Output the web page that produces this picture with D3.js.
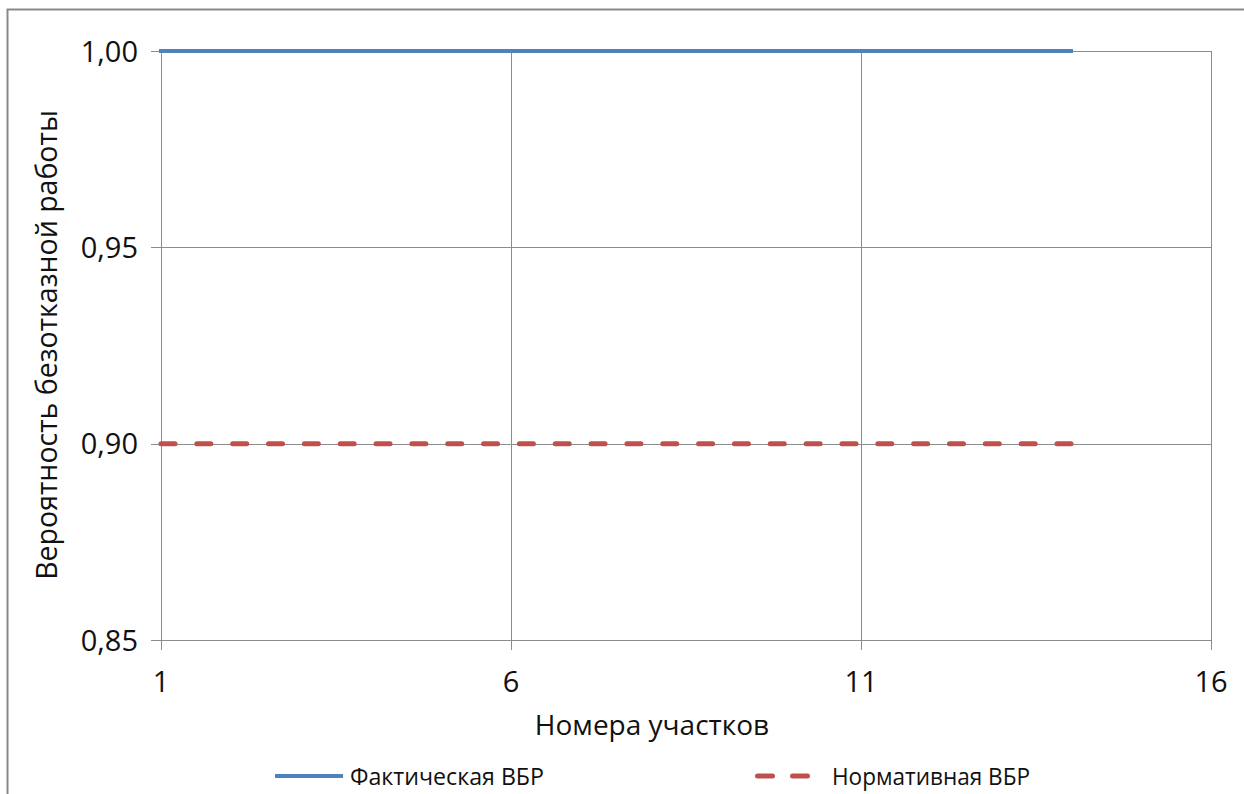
<!DOCTYPE html>
<html><head><meta charset="utf-8">
<script src="https://cdn.jsdelivr.net/npm/d3@7"></script>
<style>body{margin:0;background:#fff}svg{display:block}</style>
</head><body>
<script>
const sections = [1,2,3,4,5,6,7,8,9,10,11,12,13,14];
const actualVBR = [1,1,1,1,1,1,1,1,1,1,1,1,1,1];
const normVBR = [0.9,0.9,0.9,0.9,0.9,0.9,0.9,0.9,0.9,0.9,0.9,0.9,0.9,0.9];
const xTicks = [1,6,11,16];
const yTicks = [0.85,0.90,0.95,1.00];
const seriesNames = ["Фактическая ВБР","Нормативная ВБР"];

const W=1244,H=794;
const svg=d3.select("body").append("svg").attr("width",W).attr("height",H);
const font="'Open Sans', 'Noto Sans', sans-serif";
svg.append("rect").attr("x",7.5).attr("y",9.5).attr("width",1250).attr("height",800)
  .attr("fill","#fff").attr("stroke","#898989").attr("stroke-width",2);

const L=161,R=1211,T=51,B=640;
const x=d3.scaleLinear().domain([1,16]).range([L,R]);
const y=d3.scaleLinear().domain([0.85,1.0]).range([B,T]);

const g=svg.append("g");
g.selectAll(".hg").data(yTicks).join("line").attr("x1",L-10).attr("x2",R)
  .attr("y1",d=>Math.round(y(d))+0.5).attr("y2",d=>Math.round(y(d))+0.5).attr("stroke","#8c8c8c").attr("stroke-width",1);
g.selectAll(".vg").data(xTicks).join("line").attr("y1",T).attr("y2",B+10)
  .attr("x1",d=>Math.round(x(d))+0.5).attr("x2",d=>Math.round(x(d))+0.5).attr("stroke","#8c8c8c").attr("stroke-width",1);

g.selectAll(".yl").data(yTicks).join("text").attr("x",L-23).attr("y",d=>y(d)+10.5)
  .attr("text-anchor","end").attr("font-family",font).attr("font-size",29).attr("fill","#111")
  .text(d=>d3.format(".2f")(d).replace(".",","));
g.selectAll(".xl").data(xTicks).join("text").attr("x",d=>x(d)).attr("y",B+52)
  .attr("text-anchor","middle").attr("font-family",font).attr("font-size",29).attr("fill","#111")
  .text(d=>d);

svg.append("text").attr("x",652).attr("y",735).attr("text-anchor","middle")
  .attr("font-family",font).attr("font-size",28).attr("fill","#111").text("Номера участков");
svg.append("text").attr("transform","translate(57,345) rotate(-90)").attr("text-anchor","middle")
  .attr("font-family",font).attr("font-size",28.5).attr("fill","#111").text("Вероятность безотказной работы");

const line=d3.line().x((d,i)=>x(sections[i])).y(d=>y(d));
svg.append("path").attr("d",line(normVBR)).attr("fill","none").attr("stroke","#c0504d")
  .attr("stroke-width",5).attr("stroke-dasharray","14 21.84").attr("stroke-linecap","round");
svg.append("path").attr("d",line(actualVBR)).attr("fill","none").attr("stroke","#4f81bd")
  .attr("stroke-width",4).attr("stroke-linecap","square");

const lg=svg.append("g");
lg.append("line").attr("x1",277).attr("x2",341).attr("y1",776).attr("y2",776)
  .attr("stroke","#4f81bd").attr("stroke-width",4).attr("stroke-linecap","square");
lg.append("text").attr("x",350).attr("y",785).attr("font-family",font).attr("font-size",24)
  .attr("fill","#111").attr("textLength",194).attr("lengthAdjust","spacingAndGlyphs").text(seriesNames[0]);
lg.append("line").attr("x1",757.5).attr("x2",808).attr("y1",776).attr("y2",776)
  .attr("stroke","#c0504d").attr("stroke-width",5).attr("stroke-dasharray","15 20").attr("stroke-linecap","round");
lg.append("text").attr("x",832).attr("y",785).attr("font-family",font).attr("font-size",24)
  .attr("fill","#111").attr("textLength",198).attr("lengthAdjust","spacingAndGlyphs").text(seriesNames[1]);
</script>
</body></html>
